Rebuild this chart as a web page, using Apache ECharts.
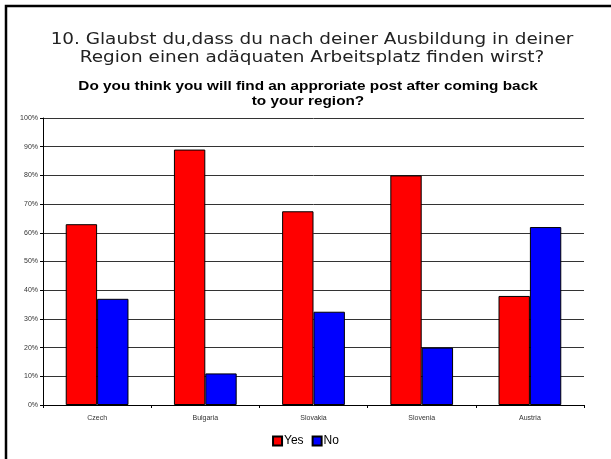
<!DOCTYPE html>
<html><head><meta charset="utf-8">
<script src="https://cdn.jsdelivr.net/npm/echarts@6/dist/echarts.min.js"></script>
<style>html,body{margin:0;padding:0;background:#fff}#c{width:611px;height:459px}</style>
</head><body><div id="c"></div>
<script>
const categories = ['Czech', 'Bulgaria', 'Slovakia', 'Slovenia', 'Austria'];
const yesValues = [63, 89, 67.5, 80, 38];
const noValues = [37, 11, 32.5, 20, 62];
const seriesNames = ['Yes', 'No'];
const titleLines = ['10. Glaubst du,dass du nach deiner Ausbildung in deiner', 'Region einen adäquaten Arbeitsplatz finden wirst?'];
const subtitleLines = ['Do you think you will find an approriate post after coming back', 'to your region?'];

function textEl(txt, cx, cy, sx, font, color) {
  return {
    type: 'text', x: cx, y: cy, scaleX: sx, z: 50,
    style: {text: txt, x: 0, y: 0, textAlign: 'center', textVerticalAlign: 'middle', font: font, fill: color}
  };
}

const chart = echarts.init(document.getElementById('c'), null, {renderer: 'canvas'});
chart.setOption({
  animation: false,
  backgroundColor: '#fff',
  graphic: [
    {type: 'rect', z: 100, shape: {x: 6, y: 6, width: 800, height: 800},
     style: {fill: 'none', stroke: '#000', lineWidth: 2.5}},
    textEl(titleLines[0], 312, 40, 1.15, '16px "DejaVu Sans"', '#222'),
    textEl(titleLines[1], 312, 57.5, 1.15, '16px "DejaVu Sans"', '#222'),
    textEl(subtitleLines[0], 308, 86, 1.18, 'bold 13px "Liberation Sans"', '#000'),
    textEl(subtitleLines[1], 308, 101, 1.18, 'bold 13px "Liberation Sans"', '#000')
  ],
  legend: {
    data: seriesNames,
    bottom: 7, left: 'center',
    itemWidth: 9, itemHeight: 9, itemGap: 8,
    icon: 'rect',
    textStyle: {fontFamily: 'Liberation Sans', fontSize: 12, color: '#000', padding: [0, 0, 0, -3]}
  },
  grid: {left: 43, right: 27, top: 118, bottom: 54, containLabel: false},
  xAxis: {
    type: 'category', data: categories,
    axisLine: {lineStyle: {color: '#000', width: 1}},
    axisTick: {show: true, lineStyle: {color: '#000'}, length: 3},
    axisLabel: {fontFamily: 'Liberation Sans', fontSize: 7, color: '#333', margin: 10}
  },
  yAxis: {
    type: 'value', min: 0, max: 100, interval: 10,
    axisLine: {show: true, lineStyle: {color: '#000', width: 1}},
    axisTick: {show: true, lineStyle: {color: '#000'}, length: 3},
    axisLabel: {fontFamily: 'Liberation Sans', fontSize: 7, color: '#333', formatter: '{value}%', margin: 5},
    splitLine: {show: true, lineStyle: {color: '#333', width: 1}}
  },
  series: [{
    name: seriesNames[0], type: 'bar', data: yesValues,
    barGap: '0%', barCategoryGap: '42%',
    itemStyle: {color: '#ff0000', borderColor: '#000', borderWidth: 1}
  }, {
    name: seriesNames[1], type: 'bar', data: noValues,
    itemStyle: {color: '#0000ff', borderColor: '#000', borderWidth: 1}
  }]
});
</script></body></html>
